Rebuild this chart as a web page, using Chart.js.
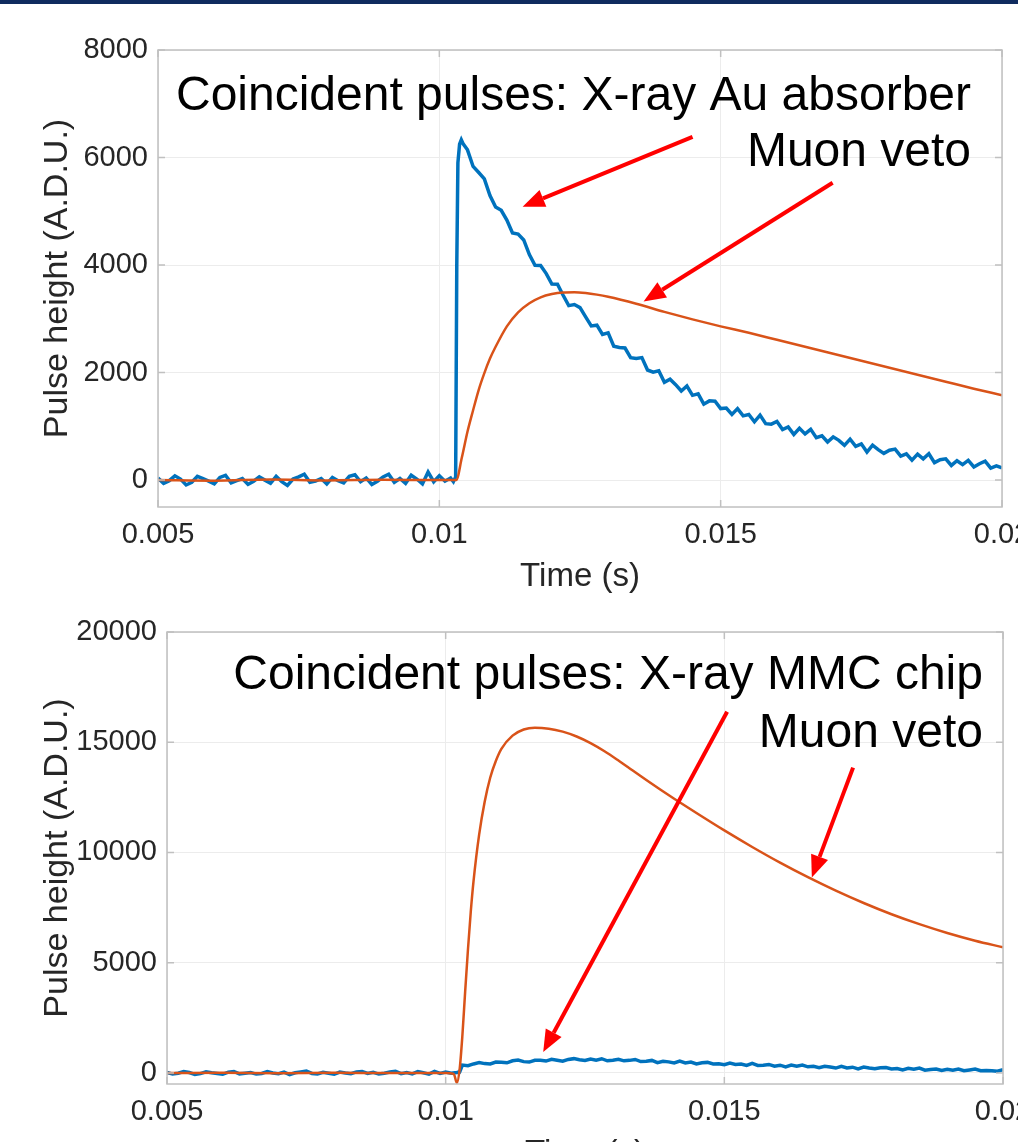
<!DOCTYPE html>
<html lang="en">
<head>
<meta charset="utf-8" />
<title>Coincident pulses</title>
<script src="https://cdn.jsdelivr.net/npm/chart.js"></script>
<style>
  html, body { margin: 0; padding: 0; background: #fff; overflow: hidden; width: 1018px; height: 1142px; }
  #bar { position: absolute; left: 0; top: 0; width: 1018px; height: 4px; background: #0f2b5f; }
  #topChart { position: absolute; left: 0; top: 0; }
  #bottomChart { position: absolute; left: 0; top: 600px; }
</style>
</head>
<body>
<canvas id="topChart" width="1042" height="597"></canvas>
<canvas id="bottomChart" width="1043" height="574"></canvas>
<div id="bar"></div>
<script>
// ---- data (time in ms, pulse height in A.D.U.) ----
var xTicks = [0.005, 0.01, 0.015, 0.02];
var yTicksTop = [0, 2000, 4000, 6000, 8000];
var yTicksBottom = [0, 5000, 10000, 15000, 20000];

// top panel: X-ray on the Au absorber
var auTime = [
  5.0,5.1,5.2,5.3,5.4,5.5,5.6,5.7,5.8,5.9,
  6.0,6.1,6.2,6.3,6.4,6.5,6.6,6.7,6.8,6.9,
  7.0,7.1,7.2,7.3,7.4,7.5,7.6,7.7,7.8,7.9,
  8.0,8.1,8.2,8.3,8.4,8.5,8.6,8.7,8.8,8.9,
  9.0,9.1,9.2,9.3,9.4,9.5,9.6,9.7,9.8,9.9,
  10.0,10.1,10.2,
  10.25,10.29,10.31,10.33,10.36,10.39,10.42,
  10.5,10.6,10.7,10.8,10.9,
  11.0,11.1,11.2,11.3,11.4,11.5,11.6,11.7,11.8,11.9,
  12.0,12.1,12.2,12.3,12.4,12.5,12.6,12.7,12.8,12.9,
  13.0,13.1,13.2,13.3,13.4,13.5,13.6,13.7,13.8,13.9,
  14.0,14.1,14.2,14.3,14.4,14.5,14.6,14.7,14.8,14.9,
  15.0,15.1,15.2,15.3,15.4,15.5,15.6,15.7,15.8,15.9,
  16.0,16.1,16.2,16.3,16.4,16.5,16.6,16.7,16.8,16.9,
  17.0,17.1,17.2,17.3,17.4,17.5,17.6,17.7,17.8,17.9,
  18.0,18.1,18.2,18.3,18.4,18.5,18.6,18.7,18.8,18.9,
  19.0,19.1,19.2,19.3,19.4,19.5,19.6,19.7,19.8,19.9,
  20.0
];
var auXray = [
  40,-60,-10,80,20,-90,-40,70,30,-20,
  -70,50,90,-50,-10,30,-80,-20,60,0,
  -60,70,-30,-100,20,60,110,-40,-20,30,
  -70,50,-10,-50,70,100,-30,40,-80,-20,
  60,110,-40,30,-60,90,20,-70,150,-30,
  80,-20,40,
  -30,60,4000,5900,6250,6330,6260,
  6143,5834,5721,5604,5293,
  5078,5019,4836,4598,4575,4467,4194,3995,3991,3842,
  3646,3645,3438,3245,3265,3209,3037,2868,2882,2709,
  2739,2492,2468,2457,2278,2262,2279,2048,2009,2033,
  1818,1876,1776,1658,1751,1577,1604,1413,1474,1466,
  1330,1340,1220,1330,1195,1220,1085,1210,1050,1040,
  1090,940,990,850,965,860,945,790,825,710,
  805,740,646,762,628,675,522,650,568,497,
  556,576,447,488,370,483,396,490,325,380,
  396,273,360,288,366,245,304,354,224,265,
  226
];
var muonTopTime = [5.0,6.0,7.0,8.0,9.0,10.0,10.3,10.4,10.5,10.6,10.7,10.8,10.9,11.0,11.2,11.4,11.6,11.8,12.0,12.2,12.4,12.6,12.8,13.0,13.5,14.0,14.5,15.0,15.5,16.0,16.5,17.0,17.5,18.0,18.5,19.0,19.5,20.0];
var muonTop = [0,-10,10,-5,5,0,0,420,900,1300,1680,1990,2260,2480,2860,3120,3290,3400,3460,3490,3495,3480,3450,3410,3280,3130,2990,2860,2740,2610,2480,2350,2220,2090,1960,1830,1700,1580];

// bottom panel: X-ray on the MMC chip
var mmcTime = [
  5.0,5.1,5.2,5.3,5.4,5.5,5.6,5.7,5.8,5.9,
  6.0,6.1,6.2,6.3,6.4,6.5,6.6,6.7,6.8,6.9,
  7.0,7.1,7.2,7.3,7.4,7.5,7.6,7.7,7.8,7.9,
  8.0,8.1,8.2,8.3,8.4,8.5,8.6,8.7,8.8,8.9,
  9.0,9.1,9.2,9.3,9.4,9.5,9.6,9.7,9.8,9.9,
  10.0,10.1,10.2,
  10.25,
  10.3,10.4,10.5,10.6,10.7,10.8,10.9,
  11.0,11.1,11.2,11.3,11.4,11.5,11.6,11.7,11.8,11.9,
  12.0,12.1,12.2,12.3,12.4,12.5,12.6,12.7,12.8,12.9,
  13.0,13.1,13.2,13.3,13.4,13.5,13.6,13.7,13.8,13.9,
  14.0,14.1,14.2,14.3,14.4,14.5,14.6,14.7,14.8,14.9,
  15.0,15.1,15.2,15.3,15.4,15.5,15.6,15.7,15.8,15.9,
  16.0,16.1,16.2,16.3,16.4,16.5,16.6,16.7,16.8,16.9,
  17.0,17.1,17.2,17.3,17.4,17.5,17.6,17.7,17.8,17.9,
  18.0,18.1,18.2,18.3,18.4,18.5,18.6,18.7,18.8,18.9,
  19.0,19.1,19.2,19.3,19.4,19.5,19.6,19.7,19.8,19.9,
  20.0
];
var mmcXray = [
  30,-50,-10,60,20,-70,-30,50,10,-20,
  -60,40,70,-40,-10,20,-50,-20,60,0,
  -30,40,-70,10,50,90,-20,-40,30,-10,
  -60,40,0,-30,50,70,-20,30,-50,-10,
  40,80,-30,20,-40,60,10,-50,70,-20,
  40,-10,20,
  40,
  360,330,410,475,425,412,497,
  490,462,553,584,514,494,573,572,540,618,
  575,531,616,650,603,564,633,580,646,551,
  575,618,550,572,614,516,528,570,471,532,
  503,454,535,456,497,408,459,480,411,422,
  373,454,386,408,340,432,344,346,388,310,
  353,276,359,302,355,278,301,244,307,270,
  223,306,229,263,187,271,225,189,233,247,
  181,205,139,213,167,222,127,162,177,112,
  167,122,177,102,138,174,100,116,102,78,
  144
];
var muonBottomTime = [5.0,6.0,7.0,8.0,9.0,10.0,10.1,10.15,10.2,10.25,10.3,10.35,10.4,10.45,10.5,10.6,10.7,10.8,10.9,11.0,11.2,11.4,11.6,11.85,12.1,12.35,12.6,12.85,13.1,13.35,13.6,13.85,14.1,14.5,15.0,15.5,16.0,16.5,17.0,17.5,18.0,18.5,19.0,19.5,20.0];
var muonBottom = [0,10,-10,5,-5,0,-20,-60,-450,150,1700,3700,5600,7300,8700,10800,12300,13400,14150,14700,15300,15580,15660,15615,15480,15260,14960,14590,14170,13730,13290,12860,12440,11790,11000,10250,9540,8880,8270,7710,7200,6750,6350,6000,5700];

// ---- style ----
var FONT = "'Liberation Sans', Arial, Helvetica, sans-serif";
var BLUE = '#0072bd';
var ORANGE = '#d95319';

function pairs(times, values) {
  return times.map(function (t, i) { return { x: t / 1000, y: values[i] }; });
}

function drawArrow(ctx, x1, y1, x2, y2) {
  var ang = Math.atan2(y2 - y1, x2 - x1);
  var len = 22, half = 9;
  var bx = x2 - len * Math.cos(ang), by = y2 - len * Math.sin(ang);
  ctx.strokeStyle = '#ff0000';
  ctx.fillStyle = '#ff0000';
  ctx.lineWidth = 4;
  ctx.beginPath();
  ctx.moveTo(x1, y1);
  ctx.lineTo(bx, by);
  ctx.stroke();
  ctx.beginPath();
  ctx.moveTo(x2, y2);
  ctx.lineTo(bx + half * Math.sin(ang), by - half * Math.cos(ang));
  ctx.lineTo(bx - half * Math.sin(ang), by + half * Math.cos(ang));
  ctx.closePath();
  ctx.fill();
}

// axes box, inward ticks, text and arrows
var overlay = {
  id: 'overlay',
  afterDatasetsDraw: function (chart) {
    var ctx = chart.ctx, a = chart.chartArea, sx = chart.scales.x, sy = chart.scales.y;
    ctx.save();
    ctx.strokeStyle = '#c0c0c0';
    ctx.lineWidth = 1.5;
    ctx.strokeRect(a.left, a.top, a.right - a.left, a.bottom - a.top);
    ctx.beginPath();
    sx.ticks.forEach(function (t) {
      var px = sx.getPixelForValue(t.value);
      ctx.moveTo(px, a.bottom); ctx.lineTo(px, a.bottom - 7);
      ctx.moveTo(px, a.top); ctx.lineTo(px, a.top + 7);
    });
    sy.ticks.forEach(function (t) {
      var py = sy.getPixelForValue(t.value);
      ctx.moveTo(a.left, py); ctx.lineTo(a.left + 7, py);
      ctx.moveTo(a.right, py); ctx.lineTo(a.right - 7, py);
    });
    ctx.stroke();
    ctx.restore();
  },
  afterDraw: function (chart, args, opts) {
    var ctx = chart.ctx, sx = chart.scales.x, sy = chart.scales.y;
    ctx.save();
    ctx.fillStyle = '#000';
    ctx.font = '48px ' + FONT;
    ctx.textAlign = 'right';
    ctx.textBaseline = 'alphabetic';
    opts.texts.forEach(function (tx) {
      ctx.fillText(tx.text, sx.getPixelForValue(tx.t / 1000), sy.getPixelForValue(tx.v));
    });
    opts.arrows.forEach(function (ar) {
      drawArrow(ctx, sx.getPixelForValue(ar[0] / 1000), sy.getPixelForValue(ar[1]),
                sx.getPixelForValue(ar[2] / 1000), sy.getPixelForValue(ar[3]));
    });
    ctx.restore();
  }
};

function makeChart(id, cfg) {
  return new Chart(document.getElementById(id), {
    type: 'line',
    data: {
      datasets: [
        { data: pairs(cfg.muonTime, cfg.muon), borderColor: ORANGE, borderWidth: 2.5, cubicInterpolationMode: 'monotone' },
        { data: pairs(cfg.xrayTime, cfg.xray), borderColor: BLUE, borderWidth: 3.5 }
      ]
    },
    options: {
      responsive: false,
      animation: false,
      events: [],
      elements: { point: { radius: 0 }, line: { tension: 0 } },
      layout: { padding: { left: 0, right: 40, top: cfg.padTop, bottom: 0 } },
      plugins: {
        legend: { display: false },
        tooltip: { enabled: false },
        overlay: { texts: cfg.texts, arrows: cfg.arrows }
      },
      scales: {
        x: {
          type: 'linear',
          min: 0.005,
          max: 0.02,
          afterBuildTicks: function (s) { s.ticks = xTicks.map(function (v) { return { value: v }; }); },
          afterFit: function (s) { s.height = 90; },
          border: { display: false },
          grid: { color: '#ececec', drawTicks: false },
          ticks: { padding: 11, color: '#262626', font: { family: FONT, size: 29 }, autoSkip: false, maxRotation: 0,
                   callback: function (v) { return String(v); } },
          title: { display: true, text: 'Time (s)', color: '#262626', font: { family: FONT, size: 33 }, padding: { top: 0, bottom: 0 } }
        },
        y: {
          min: -500,
          max: cfg.yMax,
          afterBuildTicks: function (s) { s.ticks = cfg.yTicks.map(function (v) { return { value: v }; }); },
          afterFit: function (s) { s.width = cfg.axisWidth; },
          border: { display: false },
          grid: { color: '#ececec', drawTicks: false },
          ticks: { padding: 10, color: '#262626', font: { family: FONT, size: 29 }, autoSkip: false,
                   callback: function (v) { return String(v); } },
          title: { display: true, text: 'Pulse height (A.D.U.)', color: '#262626', font: { family: FONT, size: 34 }, padding: { top: 37, bottom: 0 } }
        }
      }
    },
    plugins: [overlay]
  });
}

makeChart('topChart', {
  xrayTime: auTime, xray: auXray, muonTime: muonTopTime, muon: muonTop,
  yMax: 8000, yTicks: yTicksTop, axisWidth: 158, padTop: 50,
  texts: [
    { text: 'Coincident pulses: X-ray Au absorber', t: 19.45, v: 6886 },
    { text: 'Muon veto', t: 19.45, v: 5846 }
  ],
  arrows: [[14.50, 6385, 11.48, 5085], [16.99, 5531, 13.63, 3322]]
});

makeChart('bottomChart', {
  xrayTime: mmcTime, xray: mmcXray, muonTime: muonBottomTime, muon: muonBottom,
  yMax: 20000, yTicks: yTicksBottom, axisWidth: 167, padTop: 32,
  texts: [
    { text: 'Coincident pulses: X-ray MMC chip', t: 19.64, v: 17421 },
    { text: 'Muon veto', t: 19.64, v: 14797 }
  ],
  arrows: [[15.05, 16380, 11.75, 950], [17.31, 13847, 16.57, 8869]]
});
</script>
</body>
</html>
